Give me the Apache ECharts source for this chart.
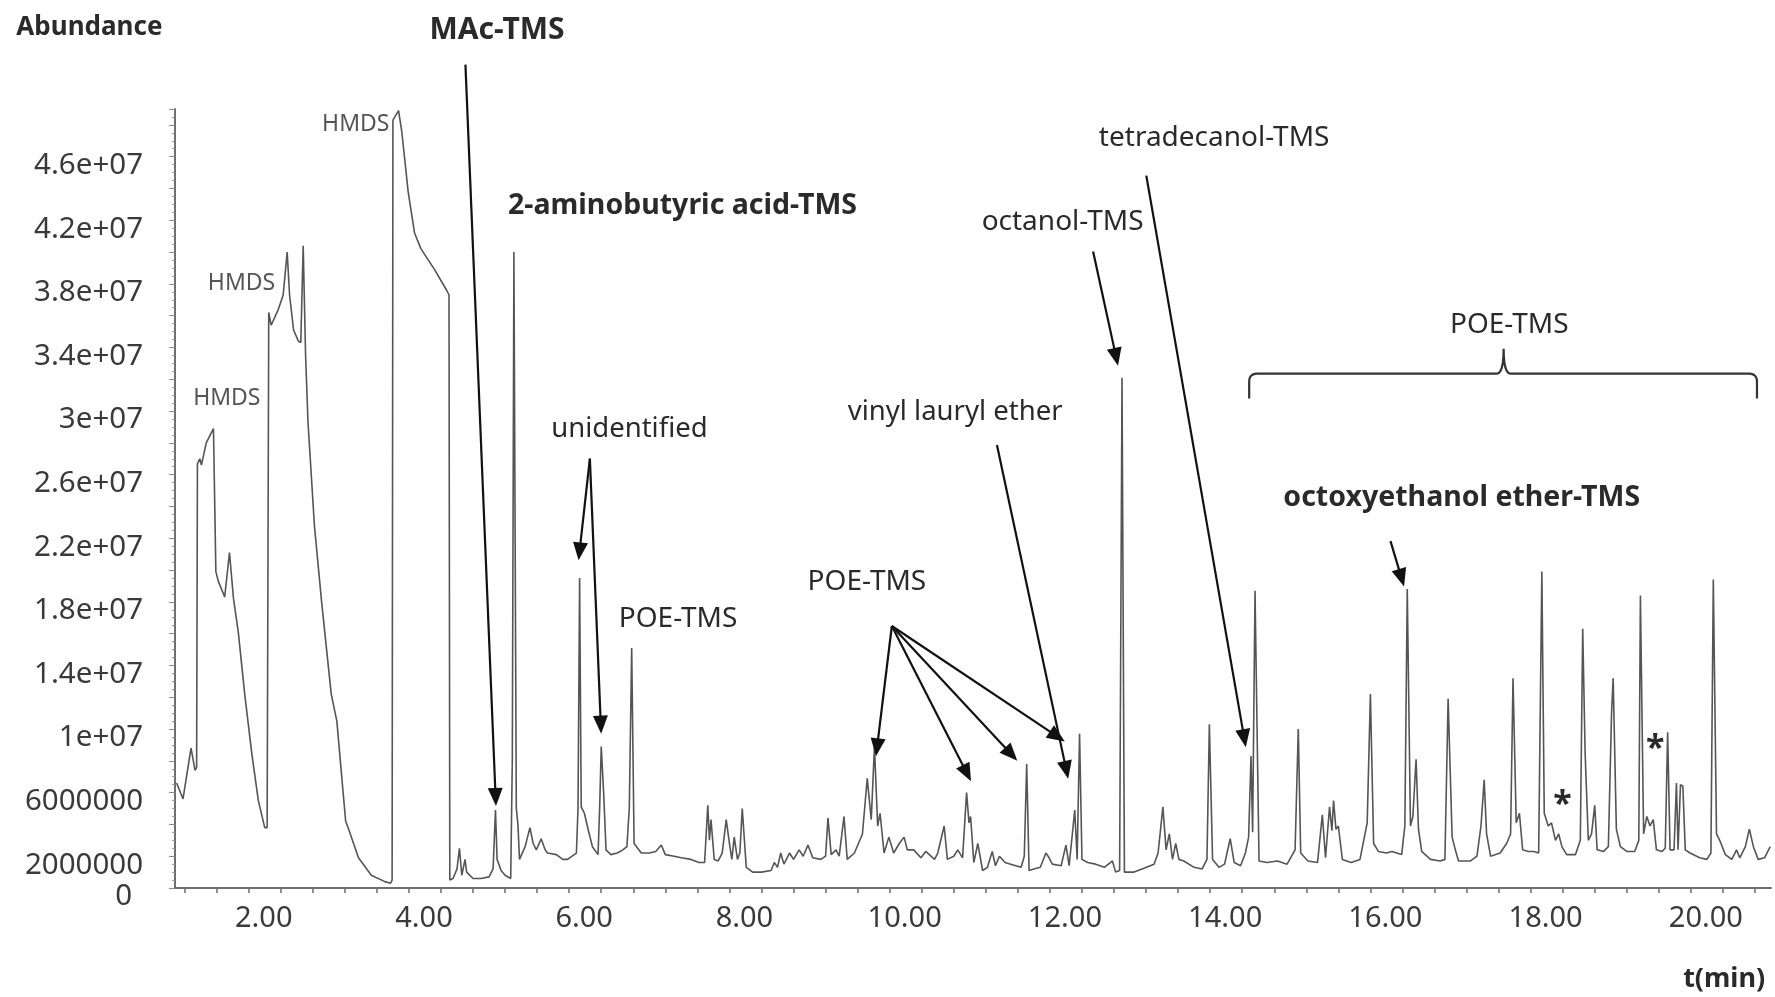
<!DOCTYPE html>
<html><head><meta charset="utf-8">
<script src="https://cdn.jsdelivr.net/npm/echarts@6/dist/echarts.min.js"></script>
<style>html,body{margin:0;padding:0;background:#fff}#c{width:1775px;height:997px}</style>
</head><body><div id="c"></div>
<script>
// ---- data: retention time (min) and abundance (in units of 1e6 counts) ----
const retentionTimes = [
1.10,1.18,1.28,1.33,1.35,1.36,1.39,1.41,1.47,1.56,1.58,1.59,1.62,1.70,1.76,1.81,1.87,1.95,2.04,2.12,2.20,2.23,
2.25,2.28,2.37,2.43,2.48,2.51,2.56,2.62,2.65,2.68,2.71,2.74,2.82,2.91,3.03,3.10,3.21,3.24,3.37,3.53,3.70,3.77,3.79,
3.80,3.87,3.91,3.99,4.07,4.15,4.32,4.47,4.50,4.51,4.55,4.60,4.63,4.66,4.70,4.72,4.80,4.90,5.00,5.05,5.08,5.10,5.15,
5.20,5.27,5.29,5.31,5.34,5.36,5.38,5.45,5.51,5.55,5.59,5.65,5.70,5.73,5.84,5.92,5.98,6.09,6.11,6.13,6.15,6.19,6.24,
6.29,6.36,6.38,6.40,6.43,6.46,6.52,6.60,6.67,6.72,6.75,6.78,6.81,6.90,7.00,7.08,7.15,7.20,7.31,7.40,7.52,7.62,7.69,
7.73,7.75,7.77,7.81,7.86,7.91,7.96,8.00,8.03,8.06,8.10,8.13,8.16,8.21,8.29,8.40,8.52,8.56,8.60,8.64,8.68,8.75,8.80,
8.87,8.92,8.98,9.04,9.14,9.20,9.23,9.27,9.33,9.37,9.43,9.47,9.56,9.66,9.72,9.77,9.81,9.85,9.88,9.93,9.99,10.05,10.12,
10.18,10.22,10.30,10.39,10.45,10.56,10.60,10.68,10.72,10.80,10.85,10.91,10.96,10.99,11.01,11.05,11.10,11.16,11.22,
11.28,11.32,11.37,11.44,11.51,11.64,11.68,11.71,11.74,11.80,11.88,11.95,11.99,12.03,12.14,12.20,12.24,12.28,12.31,
12.34,12.37,12.40,12.47,12.57,12.68,12.78,12.82,12.87,12.90,12.93,13.05,13.15,13.30,13.35,13.41,13.45,13.49,13.53,
13.57,13.61,13.67,13.80,13.90,13.96,13.99,14.03,14.11,14.18,14.25,14.30,14.38,14.44,14.48,14.51,14.53,14.56,14.61,
14.71,14.84,14.96,15.06,15.10,15.13,15.22,15.34,15.40,15.44,15.49,15.52,15.54,15.57,15.60,15.65,15.76,15.87,15.96,
16.00,16.04,16.10,16.20,16.27,16.39,16.43,16.46,16.50,16.53,16.57,16.60,16.64,16.75,16.87,16.93,16.97,17.02,17.06,
17.10,17.25,17.33,17.38,17.42,17.45,17.50,17.62,17.70,17.75,17.78,17.82,17.86,17.90,17.97,18.04,18.10,18.14,18.17,
18.22,18.26,18.31,18.35,18.39,18.45,18.56,18.62,18.65,18.68,18.72,18.76,18.80,18.83,18.91,18.97,19.01,19.03,19.07,
19.12,19.20,19.30,19.35,19.37,19.41,19.45,19.49,19.53,19.57,19.64,19.68,19.71,19.74,19.79,19.82,19.84,19.87,19.90,
19.93,19.99,20.11,20.20,20.25,20.28,20.32,20.36,20.43,20.51,20.57,20.61,20.68,20.73,20.78,20.84,20.92,20.99
];
const abundanceMillions = [
6.6,5.6,8.8,7.4,7.6,26.7,27.0,26.6,28.0,28.9,28.8,19.9,19.3,18.3,21.1,18.2,16.1,12.2,8.4,5.5,3.8,3.8,
36.2,35.4,36.4,37.3,40.0,37.3,35.1,34.4,34.3,40.4,33.5,29.3,22.8,18.0,12.2,10.5,4.2,3.8,1.9,0.8,0.4,0.3,0.5,
48.3,48.9,47.6,43.8,41.2,40.2,38.9,37.6,37.3,0.5,0.6,1.2,2.5,0.8,1.8,1.0,0.6,0.6,0.7,1.2,4.9,1.8,1.1,
0.8,0.6,8.0,40.0,5.0,4.0,1.8,2.6,3.8,2.8,2.4,3.1,2.4,2.2,2.1,1.8,1.8,2.2,5.0,19.5,5.1,4.7,3.6,
2.6,2.1,5.0,8.9,6.0,2.4,2.1,2.2,2.4,2.6,5.0,15.1,2.8,2.2,2.2,2.3,2.7,2.1,2.0,1.9,1.8,1.6,1.6,
5.2,3.0,4.3,1.8,1.7,2.2,4.3,2.8,1.8,3.2,1.8,2.2,5.0,1.3,1.0,1.0,1.1,1.6,1.3,2.2,1.5,2.2,1.8,
2.4,2.0,2.7,1.9,1.8,2.0,4.4,2.1,2.4,2.0,4.5,1.8,2.2,3.4,6.9,4.3,8.9,3.9,4.7,2.2,3.2,2.2,2.8,
3.2,2.4,2.4,1.9,2.3,1.8,2.2,3.9,1.8,2.0,2.4,1.9,6.0,4.1,4.5,1.6,2.8,1.1,1.3,
2.3,1.4,2.0,1.6,1.5,1.3,2.0,7.8,1.1,1.2,1.3,2.2,1.9,1.5,1.4,2.7,1.4,3.4,4.9,
1.8,9.7,1.8,1.6,1.5,1.3,1.7,1.0,1.1,32.1,1.0,1.0,1.2,1.5,2.2,5.1,2.4,3.4,1.8,
2.8,1.8,1.7,1.3,1.2,1.8,10.3,1.8,1.3,1.5,3.1,1.6,1.4,2.2,3.2,8.3,3.5,18.7,1.7,
1.6,1.7,1.5,2.4,10.0,2.2,1.7,1.6,4.6,1.9,5.1,3.6,5.5,3.7,3.9,1.8,1.6,1.8,4.1,
12.2,2.8,2.3,2.2,2.3,2.1,3.9,18.8,3.9,4.5,8.1,3.7,2.3,1.8,1.7,1.8,11.9,3.2,2.4,
1.7,1.7,2.0,3.9,6.8,3.4,2.0,2.2,2.8,3.4,13.2,4.1,4.7,2.4,2.3,2.3,2.2,19.9,4.7,
3.9,4.1,3.0,3.4,2.6,2.1,2.1,3.0,16.3,8.5,3.0,3.4,5.2,2.4,2.3,2.6,11.0,13.2,3.7,
2.6,2.3,2.3,3.0,18.4,3.4,4.5,3.9,4.3,2.4,2.3,2.5,9.8,2.4,2.4,6.6,2.4,6.5,6.4,
2.4,2.2,1.9,1.8,2.2,19.4,3.4,3.0,2.1,1.8,2.4,1.9,2.6,3.7,2.6,1.8,1.9,2.6
];
// ---- axis ticks and labels ----
const xTickValues = [1.2,1.6,2,2.4,2.8,3.2,3.6,4,4.4,4.8,5.2,5.6,6,6.4,6.8,7.2,7.6,8,8.4,8.8,9.2,9.6,10,10.4,10.8,
  11.2,11.6,12,12.4,12.8,13.2,13.6,14,14.4,14.8,15.2,15.6,16,16.4,16.8,17.2,17.6,18,18.4,18.8,19.2,19.6,20,20.4,20.8];
const xLabelValues = [2,4,6,8,10,12,14,16,18,20];
const xLabelTexts = ['2.00','4.00','6.00','8.00','10.00','12.00','14.00','16.00','18.00','20.00'];
const yLabelValues = [0,2,6,10,14,18,22,26,30,34,38,42,46];
const yLabelTexts = ['0','2000000','6000000','1e+07','1.4e+07','1.8e+07','2.2e+07','2.6e+07','3e+07','3.4e+07','3.8e+07','4.2e+07','4.6e+07'];

// ---- annotations (anchored in data coordinates: [time, abundance/1e6]) ----
const textNotes = [
  {text:'Abundance', at:[-0.9,54.15], size:26, weight:'bold', align:'left'},
  {text:'MAc-TMS', at:[5.10,53.93], size:30, weight:'bold'},
  {text:'2-aminobutyric acid-TMS', at:[7.415,42.89], size:28.5, weight:'bold'},
  {text:'HMDS', at:[3.336,48.02], size:23, color:'#555'},
  {text:'HMDS', at:[1.910,38.05], size:23, color:'#555'},
  {text:'HMDS', at:[1.727,30.79], size:23, color:'#555'},
  {text:'unidentified', at:[6.752,28.87], size:27.5},
  {text:'POE-TMS', at:[7.359,16.90], size:28},
  {text:'POE-TMS', at:[9.716,19.25], size:28},
  {text:'vinyl lauryl ether', at:[10.817,29.93], size:27.5},
  {text:'octanol-TMS', at:[12.158,41.89], size:28},
  {text:'tetradecanol-TMS', at:[14.05,47.16], size:28},
  {text:'POE-TMS', at:[17.733,35.42], size:28},
  {text:'octoxyethanol ether-TMS', at:[17.14,24.52], size:28.5, weight:'bold'},
  {text:'t(min)', at:[20.415,-5.74], size:27, weight:'bold'},
  {text:'*', at:[18.397,5.2], size:34, weight:'bold'},
  {text:'*', at:[19.554,8.7], size:34, weight:'bold'}
];
const arrowNotes = [
  {from:[4.705,51.79], to:[5.086,5.16]},
  {from:[6.258,27.01], to:[6.117,20.61]},
  {from:[6.258,27.01], to:[6.399,9.71]},
  {from:[10.027,16.48], to:[9.829,8.29]},
  {from:[10.027,16.48], to:[11.015,6.72]},
  {from:[10.027,16.48], to:[11.593,8.0]},
  {from:[10.027,16.48], to:[12.186,9.21]},
  {from:[11.339,27.87], to:[12.228,6.87]},
  {from:[12.539,40.04], to:[12.85,32.85]},
  {from:[13.203,44.81], to:[14.445,8.86]},
  {from:[16.251,21.82], to:[16.42,18.97]}
];
const braceNote = {left:14.487, right:20.825, mid:17.663, bar:32.35, ends:30.79, tip:33.92};

const FONT = '"Noto Sans", "Open Sans", sans-serif';
const chart = echarts.init(document.getElementById('c'), null, {renderer:'canvas'});
const seriesData = retentionTimes.map((t,i)=>[t, abundanceMillions[i]]);

chart.setOption({
  animation:false,
  backgroundColor:'#ffffff',
  grid:{left:175, right:4, top:109, bottom:109, containLabel:false},
  xAxis:{
    type:'value', min:1.08, max:21.0,
    axisLine:{show:true, onZero:false, lineStyle:{color:'#6e6e6e', width:2}},
    axisTick:{show:true, inside:false, length:5, customValues:xTickValues, lineStyle:{color:'#6e6e6e', width:1.5}},
    axisLabel:{customValues:xLabelValues, margin:16, fontSize:29, fontFamily:FONT, color:'#3a3a3a',
      padding:[0,0,0,30],
      formatter:v=>{const i=xLabelValues.indexOf(Math.round(v*100)/100); return i<0?'':xLabelTexts[i];}},
    splitLine:{show:false}
  },
  yAxis:{
    type:'value', min:0, max:49, interval:2,
    axisLine:{show:true, lineStyle:{color:'#6e6e6e', width:2}},
    axisTick:{show:true, inside:false, length:6, lineStyle:{color:'#8a8a8a', width:1}},
    minorTick:{show:true, splitNumber:4, length:3, lineStyle:{color:'#9a9a9a', width:1}},
    axisLabel:{margin:32, fontSize:29.5, fontFamily:FONT, color:'#3a3a3a', padding:[18,0,0,0],
      showMinLabel:true, showMaxLabel:true,
      formatter:v=>{const i=yLabelValues.indexOf(Math.round(v*1000)/1000); if(i<0) return ''; return v===0?'{z|0}':yLabelTexts[i];},
      rich:{z:{fontSize:29.5, fontFamily:FONT, color:'#3a3a3a', padding:[0,11,0,0]}}},
    splitLine:{show:false}, minorSplitLine:{show:false}
  },
  series:[{
    type:'line', data:seriesData, showSymbol:false, symbol:'none', clip:false,
    lineStyle:{color:'#555555', width:1.6}, z:2
  }]
});

// ---- draw annotations ----
function px(p){ return chart.convertToPixel({gridIndex:0}, p); }
const graphics = [];
textNotes.forEach(n=>{
  const p = px(n.at);
  graphics.push({type:'text', x:p[0], y:p[1], z:10, silent:true,
    style:{text:n.text, fontSize:n.size, fontFamily:FONT, fontWeight:n.weight||'normal',
      fill:n.color||'#2a2a2a', align:n.align||'center', verticalAlign:'middle'}});
});
const HEAD_L = 18, HEAD_W = 7.5;
arrowNotes.forEach(a=>{
  const s = px(a.from), t = px(a.to);
  const dx = t[0]-s[0], dy = t[1]-s[1], L = Math.hypot(dx,dy);
  const ux = dx/L, uy = dy/L, bx = t[0]-ux*HEAD_L, by = t[1]-uy*HEAD_L;
  graphics.push({type:'line', z:11, silent:true, shape:{x1:s[0], y1:s[1], x2:bx+ux*2, y2:by+uy*2},
    style:{stroke:'#111', lineWidth:2.2}});
  graphics.push({type:'polygon', z:11, silent:true,
    shape:{points:[[t[0],t[1]],[bx-uy*HEAD_W, by+ux*HEAD_W],[bx+uy*HEAD_W, by-ux*HEAD_W]]},
    style:{fill:'#111'}});
});
(function(){
  const b = braceNote;
  const L0 = px([b.left,b.ends]), L1 = px([b.left,b.bar]), M = px([b.mid,b.bar]), T = px([b.mid,b.tip]);
  const R1 = px([b.right,b.bar]), R0 = px([b.right,b.ends]);
  const r = 8;
  function quad(p0,c,p1,n){ const out=[]; for(let i=1;i<=n;i++){const s=i/n,a=(1-s)*(1-s),bb=2*(1-s)*s,cc=s*s; out.push([a*p0[0]+bb*c[0]+cc*p1[0], a*p0[1]+bb*c[1]+cc*p1[1]]);} return out; }
  let pts = [[L0[0],L0[1]],[L1[0],L1[1]+r]];
  pts = pts.concat(quad([L1[0],L1[1]+r],[L1[0],L1[1]],[L1[0]+r,L1[1]],6));
  pts.push([M[0]-7,M[1]]);
  pts = pts.concat(quad([M[0]-7,M[1]],[M[0],M[1]],[T[0],T[1]],6));
  pts = pts.concat(quad([T[0],T[1]],[M[0],M[1]],[M[0]+7,M[1]],6));
  pts.push([R1[0]-r,R1[1]]);
  pts = pts.concat(quad([R1[0]-r,R1[1]],[R1[0],R1[1]],[R1[0],R1[1]+r],6));
  pts.push([R0[0],R0[1]]);
  graphics.push({type:'polyline', z:11, silent:true, shape:{points:pts}, style:{stroke:'#333', lineWidth:2.2, fill:null}});
})();
chart.setOption({graphic:graphics});
</script>
</body></html>
